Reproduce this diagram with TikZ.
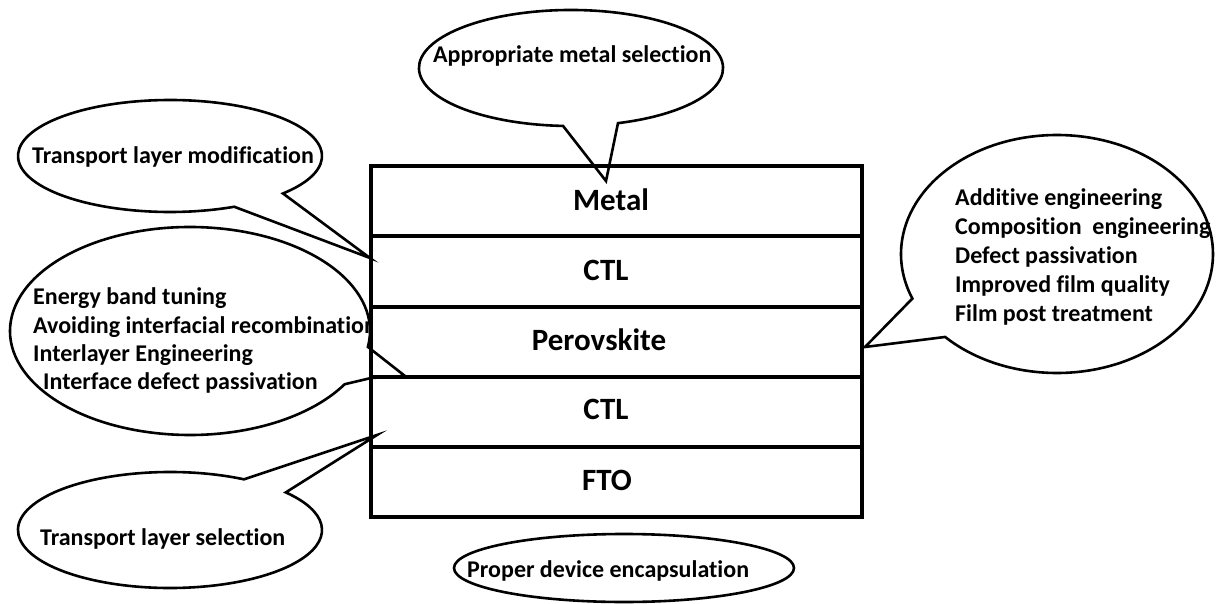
\documentclass[tikz,border=0pt]{standalone}
\usepackage{fontspec}
\setmainfont{Carlito}[RawFeature=-liga]
\begin{document}
\begin{tikzpicture}[x=1pt,y=1pt,
  bubble/.style={draw=black, line width=2.6pt, fill=white, line join=miter},
  layer/.style={draw=black, line width=3.2pt, minimum width=491pt, minimum height=70pt, inner sep=0pt},
  note/.style={font=\fontsize{24}{29}\selectfont\bfseries, anchor=base west, inner sep=0pt},
  lbl/.style={font=\fontsize{31}{37}\selectfont\bfseries, anchor=base, inner sep=0pt}]
\useasboundingbox (0,0) rectangle (1223,-604);

% pointer tips of the speech bubbles
\coordinate (tipMetal) at (606,-181);
\coordinate (tipTop)   at (370,-258);
\coordinate (kink)     at (371,-378);
\coordinate (tipMid)   at (405,-376);
\coordinate (tipLow)   at (377,-435);
\coordinate (tipRight) at (865,-347);

% speech bubbles (elliptic arc closed by a pointer)
\draw[bubble] (571,-68) ++(288:152 and 58)
  arc[start angle=288, end angle=627, x radius=152, y radius=58] -- (tipMetal) -- cycle;
\draw[bubble] (170,-156) ++(318:152 and 56)
  arc[start angle=318, end angle=655, x radius=152, y radius=56] -- (tipTop) -- cycle;
\draw[bubble] (190,-331) ++(-8.8:180 and 104)
  arc[start angle=-8.8, end angle=329.2, x radius=180, y radius=104] -- (kink) -- (tipMid) -- cycle;
\draw[bubble] (170,-530) ++(60.9:152 and 58)
  arc[start angle=60.9, end angle=400.4, x radius=152, y radius=58] -- (tipLow) -- cycle;
\draw[bubble] (1057,-254) ++(224.2:156 and 119)
  arc[start angle=224.2, end angle=562, x radius=156, y radius=119] -- (tipRight) -- cycle;
\draw[bubble] (624,-568) ellipse[x radius=170, y radius=34];

% device stack
\node[layer] (metal) at (616.5,-201) {};
\node[layer] (ctlA)  at (616.5,-271.5) {};
\node[layer] (pvk)   at (616.5,-342) {};
\node[layer] (ctlB)  at (616.5,-412) {};
\node[layer] (fto)   at (616.5,-482) {};

\node[lbl] (metalT) at (611,-211) {Metal};
\node[lbl] (ctlAT)  at (606,-280) {CTL};
\node[lbl] (pvkT)   at (599,-350) {Perovskite};
\node[lbl] (ctlBT)  at (606,-419) {CTL};
\node[lbl] (ftoT)   at (607,-490) {FTO};

% bubble texts
\node[note] (n1) at (433,-63) {Appropriate metal selection};
\node[note] (n2) at (32,-164) {Transport layer modification};
\begin{scope}
  \clip (0,-200) rectangle (369.5,-420);
  \node[note] (n3a) at (33,-304) {Energy band tuning};
  \node[note] (n3b) at (33,-333) {Avoiding interfacial recombination};
  \node[note] (n3c) at (33,-361) {Interlayer Engineering};
  \node[note] (n3d) at (43,-389) {Interface defect passivation};
\end{scope}
\node[note] (n4) at (40,-545) {Transport layer selection};
\node[note] (n5a) at (955,-205) {Additive engineering};
\node[note] (n5b) at (955,-234) {Composition~~engineering};
\node[note] (n5c) at (955,-263) {Defect passivation};
\node[note] (n5d) at (955,-292) {Improved film quality};
\node[note] (n5e) at (955,-321) {Film post treatment};
\node[note] (n6) at (467,-577) {Proper device encapsulation};
\end{tikzpicture}
\end{document}
